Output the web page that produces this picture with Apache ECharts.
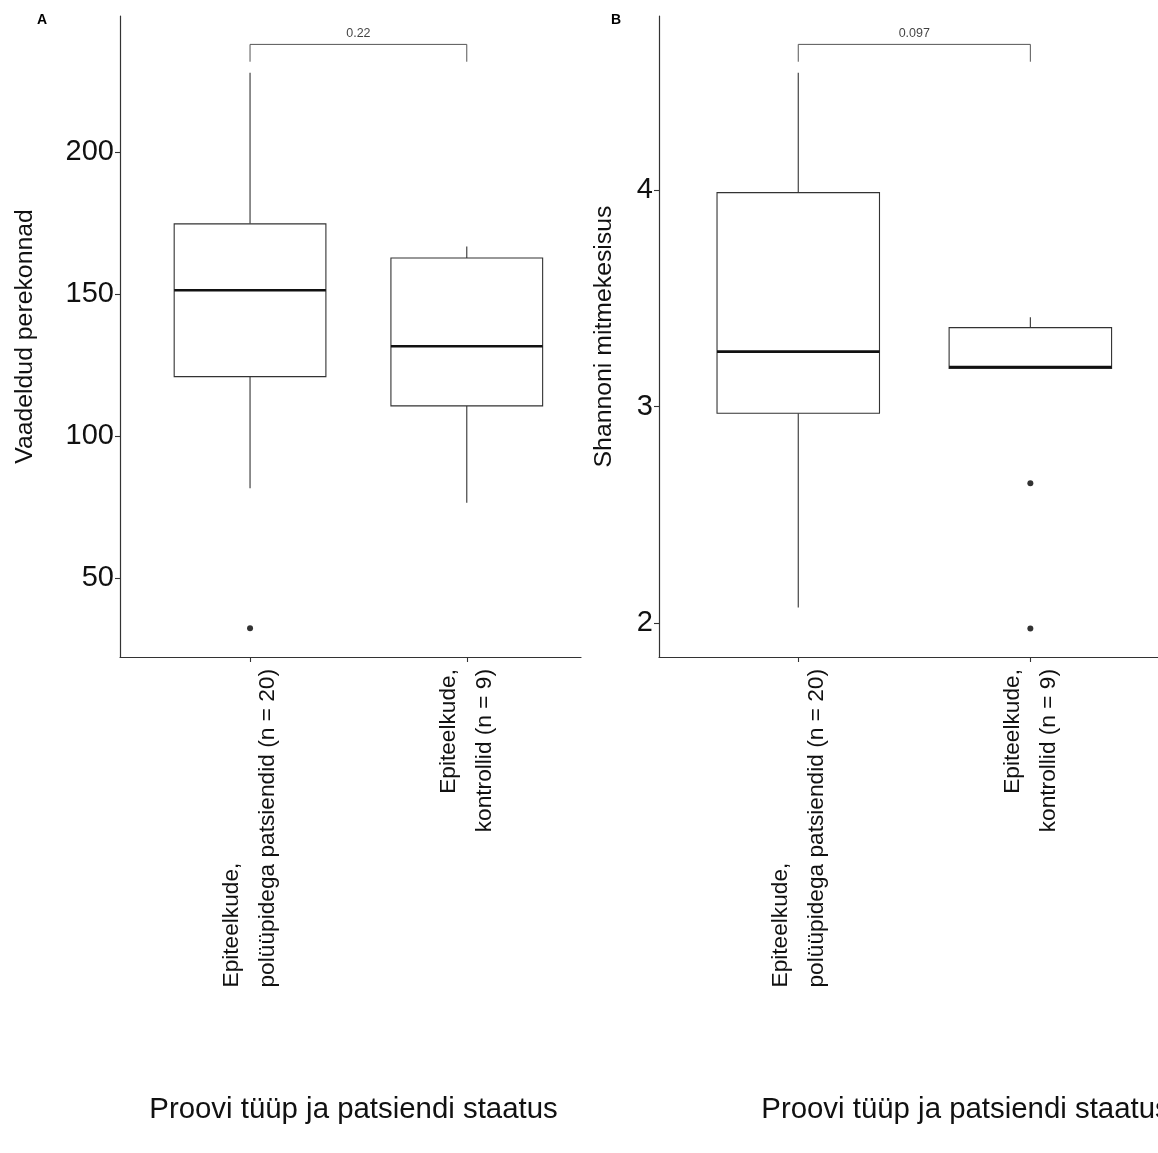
<!DOCTYPE html>
<html><head><meta charset="utf-8">
<script src="https://cdn.jsdelivr.net/npm/echarts@6/dist/echarts.min.js"></script>
<style>html,body{margin:0;padding:0;background:#fff}#c{width:1158px;height:1153px}</style>
</head><body><div id="c"></div>
<script>
// ---- data ----
const categories = ['Epiteelkude,\npolüüpidega patsiendid (n = 20)', 'Epiteelkude,\nkontrollid (n = 9)'];
// [lower whisker, Q1, median, Q3, upper whisker]
const familiesStats = [[81.7, 121.0, 151.4, 174.8, 228.0], [76.6, 110.7, 131.7, 162.8, 166.8]];
const familiesOutliers = [[1, 32.4]];
const shannonStats = [[2.074, 2.970, 3.254, 3.988, 4.541], [3.175, 3.177, 3.183, 3.365, 3.413]];
const shannonOutliers = [[2, 2.647], [2, 1.977]];
const familiesTicks = [50, 100, 150, 200];
const shannonTicks = [2, 3, 4];
const pValues = ['0.22', '0.097'];
const bracketFamilies = [231.9, 238.0];
const bracketShannon = [4.592, 4.672];
const yTitles = ['Vaadeldud perekonnad', 'Shannoni mitmekesisus'];
const xTitle = 'Proovi tüüp ja patsiendi staatus';
const panelTags = ['A', 'B'];

const FONT = 'Liberation Sans, Arial, Helvetica, sans-serif';
const AX = '#333333';

function boxData(stats) { return stats.map((s, i) => [i + 1].concat(s)); }
function bracketData(b) { return [[1, b[0]], [1, b[1]], [2, b[1]], [2, b[0]]]; }

function renderBox(params, api) {
  const x = api.value(0);
  const lo = api.coord([x, api.value(1)]);
  const q1 = api.coord([x, api.value(2)]);
  const md = api.coord([x, api.value(3)]);
  const q3 = api.coord([x, api.value(4)]);
  const hi = api.coord([x, api.value(5)]);
  const w = api.size([0.7, 0])[0];
  const cx = q1[0];
  return {
    type: 'group',
    children: [
      {type: 'line', shape: {x1: cx, y1: hi[1], x2: cx, y2: q3[1]}, style: {stroke: AX, lineWidth: 1.1}},
      {type: 'line', shape: {x1: cx, y1: q1[1], x2: cx, y2: lo[1]}, style: {stroke: AX, lineWidth: 1.1}},
      {type: 'rect', shape: {x: cx - w / 2, y: q3[1], width: w, height: q1[1] - q3[1]}, style: {fill: '#fff', stroke: AX, lineWidth: 1.1}},
      {type: 'line', shape: {x1: cx - w / 2, y1: md[1], x2: cx + w / 2, y2: md[1]}, style: {stroke: '#111', lineWidth: 2.6}}
    ]
  };
}

function xLabelFormatter(v) {
  const idx = Math.round(v) - 1;
  const lines = categories[idx].split('\n');
  return lines.map((ln, j) => (idx === 0 && j === 0 ? '{l|' : '{r|') + ln + '}').join('\n');
}

const labelRich = {
  l: {align: 'left', fontSize: 22.7, lineHeight: 36, fontFamily: FONT, color: '#111'},
  r: {align: 'right', fontSize: 22.7, lineHeight: 36, fontFamily: FONT, color: '#111'}
};

function xAxisDef(gridIndex, max) {
  return {
    type: 'value', gridIndex, min: 0.4, max,
    splitLine: {show: false},
    axisLine: {show: true, lineStyle: {color: AX, width: 1.2}},
    axisTick: {show: true, customValues: [1, 2], length: 5, lineStyle: {color: AX, width: 1.1}},
    axisLabel: {customValues: [1, 2], rotate: 90, margin: 12, formatter: xLabelFormatter, rich: labelRich}
  };
}
function yAxisDef(gridIndex, min, max, ticks, name, gap) {
  return {
    type: 'value', gridIndex, min, max, name,
    nameLocation: 'middle', nameGap: gap,
    nameTextStyle: {fontSize: 24.8, fontFamily: FONT, color: '#111'},
    splitLine: {show: false},
    axisLine: {show: true, lineStyle: {color: AX, width: 1.2}},
    axisTick: {show: true, customValues: ticks, length: 5, lineStyle: {color: AX, width: 1.1}},
    axisLabel: {customValues: ticks, fontSize: 29, margin: 6, fontFamily: FONT, color: '#111'}
  };
}

const chart = echarts.init(document.getElementById('c'), null, {renderer: 'canvas'});
chart.setOption({
  animation: false,
  backgroundColor: '#fff',
  grid: [
    {left: 120, top: 16, width: 461, height: 641},
    {left: 659, top: 16, width: 499, height: 641}
  ],
  xAxis: [xAxisDef(0, 2.527), xAxisDef(1, 2.55)],
  yAxis: [
    yAxisDef(0, 22.28, 248.0, familiesTicks, yTitles[0], 82),
    yAxisDef(1, 1.845, 4.803, shannonTicks, yTitles[1], 42)
  ],
  graphic: [
    {type: 'text', left: 37, top: 13, style: {text: panelTags[0], font: 'bold 14px ' + FONT, fill: '#000'}},
    {type: 'text', left: 611, top: 13, style: {text: panelTags[1], font: 'bold 14px ' + FONT, fill: '#000'}},
    {type: 'text', x: 353.5, y: 1110, style: {text: xTitle, fontSize: 29.4, fontFamily: FONT, fill: '#111', align: 'center', verticalAlign: 'middle'}},
    {type: 'text', x: 965.5, y: 1110, style: {text: xTitle, fontSize: 29.4, fontFamily: FONT, fill: '#111', align: 'center', verticalAlign: 'middle'}}
  ],
  series: [
    {type: 'custom', xAxisIndex: 0, yAxisIndex: 0, renderItem: renderBox, data: boxData(familiesStats), silent: true},
    {type: 'custom', xAxisIndex: 1, yAxisIndex: 1, renderItem: renderBox, data: boxData(shannonStats), silent: true},
    {type: 'scatter', xAxisIndex: 0, yAxisIndex: 0, data: familiesOutliers, symbolSize: 6, itemStyle: {color: '#000'}, silent: true},
    {type: 'scatter', xAxisIndex: 1, yAxisIndex: 1, data: shannonOutliers, symbolSize: 6, itemStyle: {color: '#000'}, silent: true},
    {type: 'line', xAxisIndex: 0, yAxisIndex: 0, data: bracketData(bracketFamilies), symbol: 'none', lineStyle: {color: '#555', width: 1}, silent: true},
    {type: 'line', xAxisIndex: 1, yAxisIndex: 1, data: bracketData(bracketShannon), symbol: 'none', lineStyle: {color: '#555', width: 1}, silent: true},
    {type: 'scatter', xAxisIndex: 0, yAxisIndex: 0, data: [[1.5, bracketFamilies[1]]], symbolSize: 0, silent: true,
     label: {show: true, position: 'top', distance: 4, formatter: pValues[0], fontSize: 12.5, fontFamily: FONT, color: '#111'}},
    {type: 'scatter', xAxisIndex: 1, yAxisIndex: 1, data: [[1.5, bracketShannon[1]]], symbolSize: 0, silent: true,
     label: {show: true, position: 'top', distance: 4, formatter: pValues[1], fontSize: 12.5, fontFamily: FONT, color: '#111'}}
  ]
});
</script></body></html>
